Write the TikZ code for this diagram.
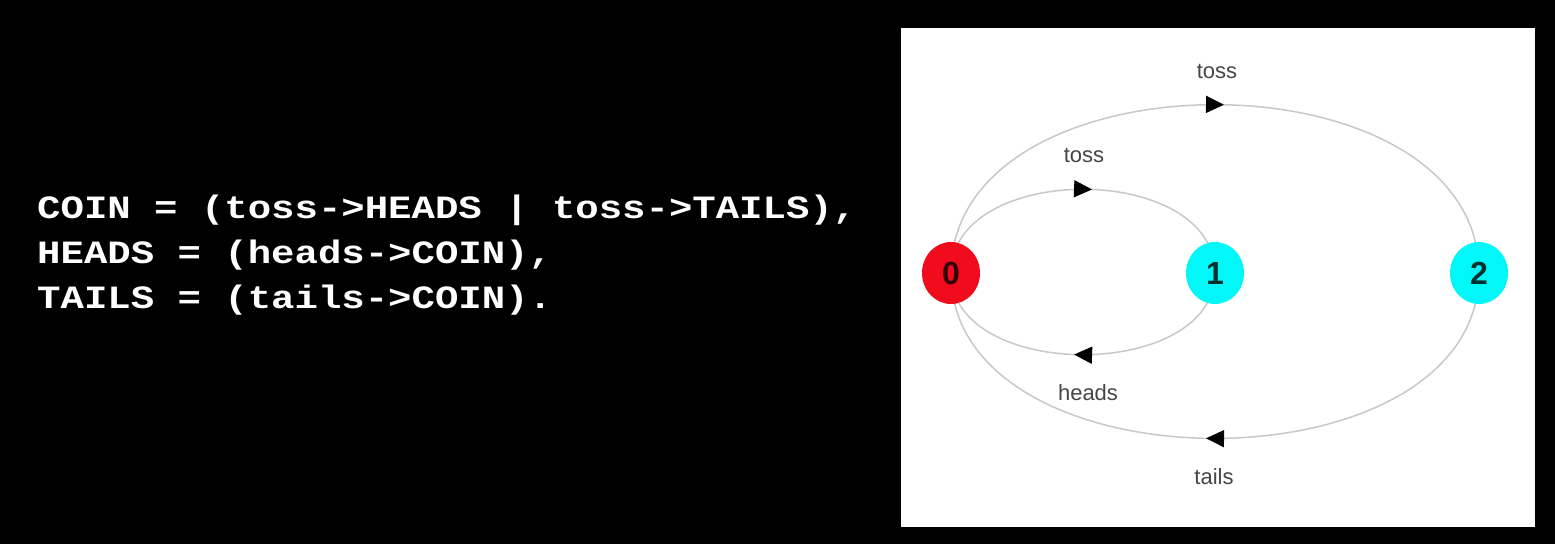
\documentclass[tikz,border=0pt]{standalone}
\usepackage{fontspec}
\setmainfont{Liberation Sans}
\newfontfamily\codefont[FakeStretch=1.2]{Liberation Mono}
\usetikzlibrary{arrows.meta,decorations.markings,shapes.geometric}
\pgfdeclarelayer{back}
\pgfdeclarelayer{bg}
\pgfsetlayers{back,bg,main}
\definecolor{statered}{RGB}{240,12,28}
\definecolor{statecyan}{RGB}{0,248,248}
\definecolor{edgegray}{RGB}{200,200,200}
\definecolor{labelgray}{RGB}{70,70,70}
\begin{document}
\begin{tikzpicture}[x=1pt,y=1pt,
  statenode/.style={ellipse, minimum width=58pt, minimum height=62pt, inner sep=0pt,
    font=\fontsize{32}{32}\selectfont\bfseries, text=black, text opacity=0.8},
  codeline/.style={text=white, font=\codefont\bfseries\fontsize{32.5}{45}\selectfont,
    anchor=base west, inner sep=0pt},
  lbl/.style={text=labelgray, font=\fontsize{22}{26}\selectfont, anchor=base, inner sep=0pt},
  trans/.style={draw=edgegray, line width=1.5pt, postaction={decorate},
    decoration={markings, mark=at position #1 with {\arrow[black]{Triangle[length=18pt,width=17pt]}}}}
]
\useasboundingbox (0,0) rectangle (1555,544);
\begin{pgfonlayer}{back}
\fill[black] (0,0) rectangle (1555,544);
\fill[white] (901,17) rectangle (1535,516);
\end{pgfonlayer}

\node[codeline] (line1) at (37,325) {COIN = (toss->HEADS | toss->TAILS),};
\node[codeline] (line2) at (37,280) {HEADS = (heads->COIN),};
\node[codeline] (line3) at (37,235) {TAILS = (tails->COIN).};

\node[statenode, fill=statered] (n0) at (951,271) {0};
\node[statenode, fill=statecyan] (n1) at (1215,271) {1};
\node[statenode, fill=statecyan] (n2) at (1479,271) {2};

\begin{pgfonlayer}{bg}
\draw[trans=0.526] (n0.center) to[out=90,in=90,looseness=1.084] (n1.center);
\draw[trans=0.526] (n1.center) to[out=-90,in=-90,looseness=1.058] (n0.center);
\draw[trans=0.513] (n0.center) to[out=90,in=90,looseness=1.090] (n2.center);
\draw[trans=0.513] (n2.center) to[out=-90,in=-90,looseness=1.071] (n0.center);
\end{pgfonlayer}

\node[lbl] (l1) at (1217,465) {toss};
\node[lbl] (l2) at (1084,381) {toss};
\node[lbl] (l3) at (1088,144) {heads};
\node[lbl] (l4) at (1214,60) {tails};
\end{tikzpicture}
\end{document}
